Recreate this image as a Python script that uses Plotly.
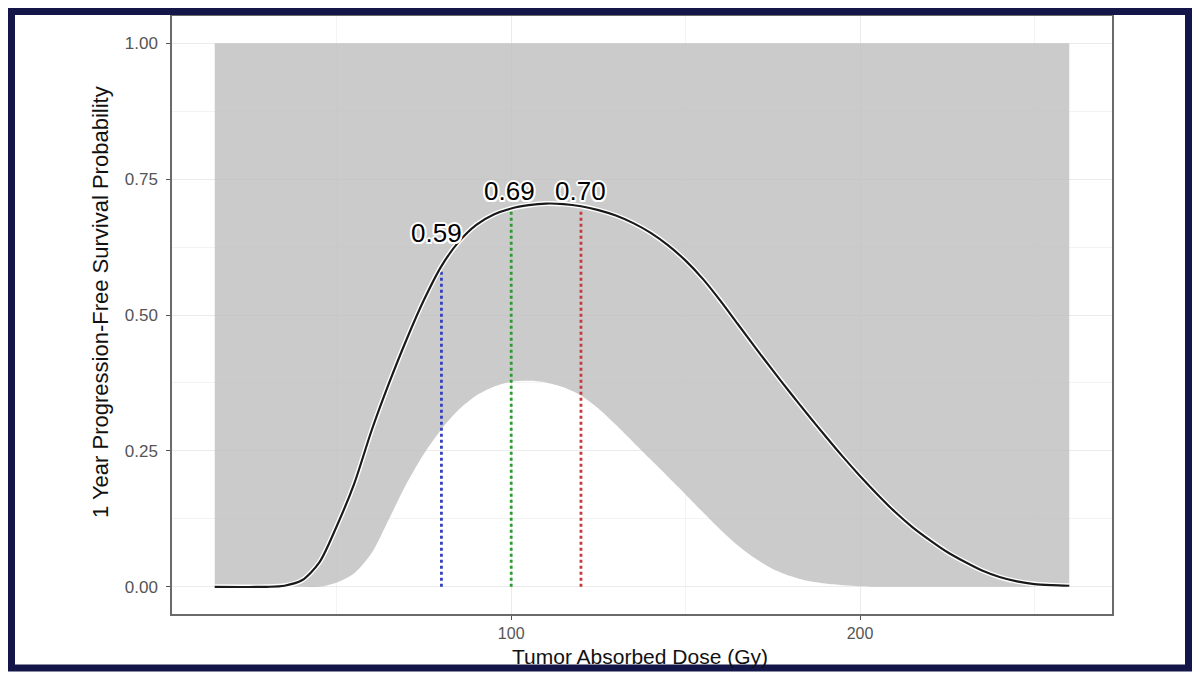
import plotly.graph_objects as go

# ---- data ----
dose = [15, 30, 35, 40, 45, 50, 55, 60, 65, 70, 75, 80, 85, 90, 95, 100, 105, 110, 115, 120,
        125, 130, 135, 140, 145, 150, 155, 160, 165, 170, 175, 180, 185, 190, 195, 200,
        205, 210, 215, 220, 225, 230, 235, 240, 245, 250, 255, 260]
pfs = [0.0, 0.0, 0.002, 0.012, 0.045, 0.112, 0.19, 0.288, 0.375, 0.455, 0.528, 0.59, 0.635,
       0.666, 0.685, 0.696, 0.702, 0.705, 0.704, 0.70,
       0.693, 0.683, 0.669, 0.651, 0.628, 0.60, 0.566, 0.526, 0.483, 0.44, 0.398, 0.357,
       0.317, 0.278, 0.24, 0.204, 0.17, 0.138, 0.11, 0.086, 0.064, 0.046, 0.03, 0.018,
       0.01, 0.005, 0.003, 0.002]
lower = [0.0, 0.0, 0.0, 0.0, 0.0, 0.008, 0.025, 0.062, 0.125, 0.19, 0.245, 0.29, 0.326,
         0.352, 0.368, 0.377, 0.379, 0.376, 0.367, 0.352,
         0.328, 0.298, 0.266, 0.234, 0.202, 0.17, 0.137, 0.105, 0.076, 0.052, 0.033, 0.02,
         0.011, 0.006, 0.003, 0.001, 0.0, 0.0, 0.0, 0.0, 0.0, 0.0, 0.0, 0.0,
         0.0, 0.0, 0.0, 0.0]
upper = [1.0] * len(dose)

ref_dose = [80, 100, 120]
ref_pfs = [0.59, 0.69, 0.70]
ref_labels = ["0.59", "0.69", "0.70"]
ref_colors = ["#3340c0", "#2f9a2f", "#c83a3a"]

y_ticks = [0.0, 0.25, 0.5, 0.75, 1.0]
y_tick_text = ["0.00", "0.25", "0.50", "0.75", "1.00"]
x_ticks = [100, 200]
x_tick_text = ["100", "200"]

# ---- layout geometry (pixels) ----
W, H = 1200, 675
ML, MR, MT, MB = 172, 88, 16, 61
PW, PH = W - ML - MR, H - MT - MB


def px(xp):
    return (xp - ML) / PW


def py(yp):
    return (H - MB - yp) / PH


fig = go.Figure()

# ribbon
fig.add_trace(go.Scatter(x=dose, y=lower, mode="lines",
                         line=dict(width=0, shape="spline", smoothing=0.8),
                         showlegend=False, hoverinfo="skip"))
fig.add_trace(go.Scatter(x=dose, y=upper, mode="lines", line=dict(width=0),
                         fill="tonexty", fillcolor="rgba(190,190,190,0.8)",
                         showlegend=False, hoverinfo="skip"))

# reference vertical lines
for xd, yv, col in zip(ref_dose, ref_pfs, ref_colors):
    fig.add_trace(go.Scatter(x=[xd, xd], y=[0, yv], mode="lines",
                             line=dict(color=col, width=2.8, dash="dot"),
                             showlegend=False, hoverinfo="skip"))

# curve with white halo
fig.add_trace(go.Scatter(x=dose, y=pfs, mode="lines",
                         line=dict(color="white", width=5, shape="spline", smoothing=0.8),
                         showlegend=False, hoverinfo="skip"))
fig.add_trace(go.Scatter(x=dose, y=pfs, mode="lines",
                         line=dict(color="#1a1a1a", width=2.2, shape="spline", smoothing=0.8),
                         showlegend=False))

halo = ("1.5px 1.5px 0 white, -1.5px -1.5px 0 white, 1.5px -1.5px 0 white, -1.5px 1.5px 0 white, "
        "0 2px 0 white, 0 -2px 0 white, 2px 0 0 white, -2px 0 0 white")
label_dx = [-1.5, -0.6, 0]
label_dy = [0.061, 0.038, 0.028]
for xd, yv, txt, dx, dy in zip(ref_dose, ref_pfs, ref_labels, label_dx, label_dy):
    fig.add_annotation(x=xd + dx, y=yv + dy, text=txt, showarrow=False,
                       font=dict(family="Liberation Sans, Arial", size=26, color="black", shadow=halo),
                       xanchor="center", yanchor="middle")

# axis titles
fig.add_annotation(xref="paper", yref="paper", x=px(640), y=py(656),
                   text="Tumor Absorbed Dose (Gy)", showarrow=False,
                   font=dict(family="Liberation Sans, Arial", size=21, color="#111111"),
                   xanchor="center", yanchor="middle")
fig.add_annotation(xref="paper", yref="paper", x=px(100), y=py(302),
                   text="1 Year Progression-Free Survival Probability", showarrow=False,
                   textangle=-90,
                   font=dict(family="Liberation Sans, Arial", size=22, color="#111111"),
                   xanchor="center", yanchor="middle")

# outer navy frame
fig.add_shape(type="rect", xref="paper", yref="paper",
              x0=px(11.5), x1=px(1188.5), y0=py(668), y1=py(11.5),
              line=dict(color="#14164a", width=7), layer="above")

fig.update_layout(
    width=W, height=H,
    paper_bgcolor="white", plot_bgcolor="white",
    margin=dict(l=ML, r=MR, t=MT, b=MB, autoexpand=False),
    font=dict(family="Liberation Sans, Arial", color="black"),
    xaxis=dict(range=[2.75, 272.25], tickvals=x_ticks, ticktext=x_tick_text, automargin=False,
               showgrid=True, gridcolor="#ebebeb", gridwidth=1.2,
               minor=dict(tickvals=[50, 150, 250], showgrid=True, gridcolor="#f3f3f3", gridwidth=0.8),
               ticks="outside", ticklen=4, tickcolor="#555555",
               tickfont=dict(size=16, color="#555555"),
               showline=True, linecolor="#6a6a6a", linewidth=1.5, mirror=True, zeroline=False),
    yaxis=dict(range=[-0.05, 1.05], tickvals=y_ticks, ticktext=y_tick_text, automargin=False,
               showgrid=True, gridcolor="#ebebeb", gridwidth=1.2,
               minor=dict(tickvals=[0.125, 0.375, 0.625, 0.875], showgrid=True, gridcolor="#f3f3f3", gridwidth=0.8),
               ticks="outside", ticklen=4, tickcolor="#555555", ticklabelstandoff=5,
               tickfont=dict(size=17, color="#555555"),
               showline=True, linecolor="#6a6a6a", linewidth=1.5, mirror=True, zeroline=False),
)

fig.write_html("out.html", config={"displayModeBar": False},
               post_script="document.body.style.margin='0';document.body.style.overflow='hidden';")
